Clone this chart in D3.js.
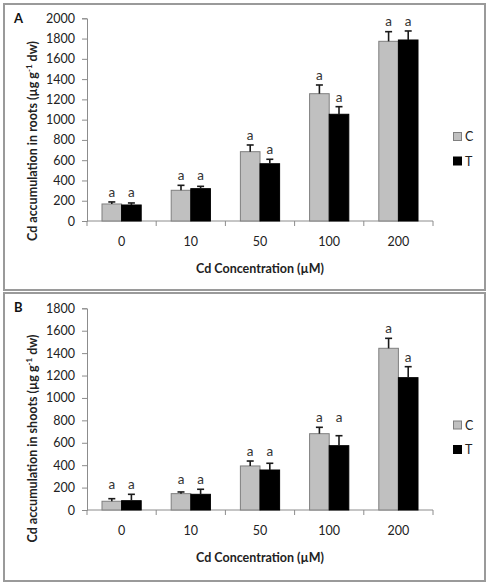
<!DOCTYPE html>
<html><head><meta charset="utf-8">
<script src="https://cdn.jsdelivr.net/npm/d3@7"></script>
<style>body{margin:0;background:#fff}svg{display:block}text{font-family:Lato,"Open Sans",sans-serif}</style>
</head><body><svg id="c" width="489" height="585"></svg>
<script>
const categories = ["0","10","50","100","200"];
const seriesNames = ["C","T"];
// Panel A: roots
const rootsC = [168, 303, 684, 1256, 1773];
const rootsCErr = [20, 49, 66, 86, 95];
const rootsT = [158, 319, 565, 1053, 1786];
const rootsTErr = [20, 23, 44, 75, 89];
const rootsTicks = [0,200,400,600,800,1000,1200,1400,1600,1800,2000];
// Panel B: shoots
const shootsC = [78, 146, 393, 681, 1443];
const shootsCErr = [23, 15, 44, 57, 89];
const shootsT = [83, 140, 357, 574, 1181];
const shootsTErr = [57, 45, 60, 89, 98];
const shootsTicks = [0,200,400,600,800,1000,1200,1400,1600,1800];
const letters = ["a","a"];

const svg = d3.select("#c");
const colors = {C:"#c0c0c0", T:"#000000"};
const strokes = {C:"#7f7f7f", T:"#000000"};

function panel(cfg){
  const g = svg.append("g");
  g.append("rect").attr("x",cfg.fx).attr("y",cfg.fy).attr("width",cfg.fw).attr("height",cfg.fh)
    .attr("fill","#fff").attr("stroke","#9a9a9a").attr("stroke-width",2);
  const x = d3.scaleBand().domain(categories).range([87,433]).padding(0);
  const xs = d3.scaleBand().domain(seriesNames).range([0,x.bandwidth()]).paddingInner(0).paddingOuter(0.765);
  const y = d3.scaleLinear().domain([0, cfg.max]).range([cfg.y0, cfg.ytop]);
  // y axis
  const ya = g.append("g").attr("transform","translate(87,0)")
    .call(d3.axisLeft(y).tickValues(cfg.ticks).tickSize(5).tickPadding(7).tickFormat(d3.format("d")));
  ya.select(".domain").attr("stroke","#8c8c8c");
  ya.selectAll(".tick line").attr("stroke","#8c8c8c");
  ya.selectAll(".tick text").attr("font-size","12.5px").attr("fill","#222").style("font-family","Lato");
  // x axis
  const xa = g.append("g").attr("transform",`translate(0,${cfg.y0})`)
    .call(d3.axisBottom(x).tickSize(0).tickPadding(0));
  xa.select(".domain").attr("stroke","#8c8c8c").attr("d",`M87,0H433`);
  xa.selectAll(".tick text").attr("font-size","12.5px").attr("fill","#222").attr("dy",null).attr("y",25).style("font-family","Lato");
  const bounds = categories.map(c=>x(c)).concat([x(categories[categories.length-1])+x.bandwidth()]);
  xa.selectAll("line.b").data(bounds).enter().append("line").attr("class","b")
    .attr("x1",d=>d).attr("x2",d=>d).attr("y1",0).attr("y2",5).attr("stroke","#8c8c8c");
  // bars
  const rows = [];
  categories.forEach((c,i)=>{
    rows.push({cat:c, s:"C", v:cfg.C[i], e:cfg.CE[i]});
    rows.push({cat:c, s:"T", v:cfg.T[i], e:cfg.TE[i]});
  });
  g.selectAll("rect.bar").data(rows).enter().append("rect").attr("class","bar")
    .attr("x",d=>x(d.cat)+xs(d.s)).attr("width",xs.bandwidth())
    .attr("y",d=>y(d.v)).attr("height",d=>y(0)-y(d.v))
    .attr("fill",d=>colors[d.s]).attr("stroke",d=>strokes[d.s]).attr("stroke-width",1);
  // error bars
  const eb = g.selectAll("g.err").data(rows).enter().append("g").attr("class","err");
  eb.append("line").attr("x1",d=>x(d.cat)+xs(d.s)+xs.bandwidth()/2).attr("x2",d=>x(d.cat)+xs(d.s)+xs.bandwidth()/2)
    .attr("y1",d=>y(d.v)).attr("y2",d=>y(d.v+d.e)).attr("stroke","#1a1a1a").attr("stroke-width",1.6);
  eb.append("line").attr("x1",d=>x(d.cat)+xs(d.s)+xs.bandwidth()/2-3.5).attr("x2",d=>x(d.cat)+xs(d.s)+xs.bandwidth()/2+3.5)
    .attr("y1",d=>y(d.v+d.e)).attr("y2",d=>y(d.v+d.e)).attr("stroke","#1a1a1a").attr("stroke-width",1.6);
  // letters
  categories.forEach((c,i)=>{
    const capC = y(cfg.C[i]+cfg.CE[i]), capT = y(cfg.T[i]+cfg.TE[i]);
    let yc = capC, yt = capT;
    if (Math.abs(capC-capT) < 10) { yc = yt = Math.min(capC,capT); }
    [["C",yc],["T",yt]].forEach(([s,yy],k)=>{
      g.append("text").attr("x",x(c)+xs(s)+xs.bandwidth()/2).attr("y",yy-5)
        .attr("text-anchor","middle").attr("font-size","13.5px").attr("fill","#333").text(letters[k]);
    });
  });
  // axis titles
  g.append("text").attr("transform",`translate(37,${cfg.ytitle}) rotate(-90)`)
    .attr("text-anchor","middle").attr("font-size","12.5px").attr("font-weight","bold").attr("fill","#222")
    .text(cfg.title[0]).append("tspan").attr("baseline-shift","super").attr("font-size","8px").text("-1")
    .select(function(){return this.parentNode;}).append("tspan").text(" dw)");
  g.append("text").attr("x",260).attr("y",cfg.y0+52).attr("text-anchor","middle")
    .attr("font-size","12.5px").attr("font-weight","bold").attr("fill","#222").text("Cd Concentration (µM)");
  g.append("text").attr("x",14).attr("y",cfg.fy+19).attr("font-size","13px").attr("font-weight","bold").attr("fill","#111").text(cfg.label);
  // legend
  seriesNames.forEach((s,k)=>{
    const ly = cfg.legY + k*24.5;
    g.append("rect").attr("x",453.5).attr("y",ly-4).attr("width",8).attr("height",8)
      .attr("fill",colors[s]).attr("stroke",strokes[s]).attr("stroke-width",1);
    g.append("text").attr("x",465).attr("y",ly+4.5).attr("font-size","12.5px").attr("fill","#222").text(s);
  });
}

panel({fx:4,fy:4,fw:481,fh:286,y0:221,ytop:18.3,max:2000,ticks:rootsTicks,
  C:rootsC,CE:rootsCErr,T:rootsT,TE:rootsTErr,label:"A",legY:136.5,ytitle:141,
  title:["Cd accumulation in roots (µg g"]});
panel({fx:4,fy:293,fw:481,fh:288,y0:510,ytop:308.3,max:1800,ticks:shootsTicks,
  C:shootsC,CE:shootsCErr,T:shootsT,TE:shootsTErr,label:"B",legY:425,ytitle:438.5,
  title:["Cd accumulation in shoots (µg g"]});
</script></body></html>
